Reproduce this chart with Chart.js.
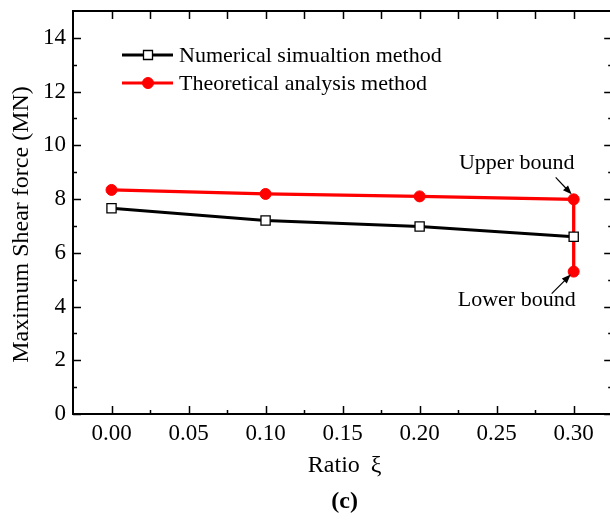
<!DOCTYPE html>
<html>
<head>
<meta charset="utf-8">
<script src="https://cdn.jsdelivr.net/npm/chart.js@4.4.0/dist/chart.umd.min.js"></script>
<style>
  html, body { margin: 0; padding: 0; background: #fff; overflow: hidden; }
  #wrap { width: 620px; height: 520px; }
</style>
</head>
<body>
<div id="wrap"><canvas id="shear-chart" width="620" height="520"></canvas></div>
<script>
// values
const ratioNumerical = [0, 0.1, 0.2, 0.3];
const shearNumerical = [7.66, 7.20, 6.98, 6.60];
const ratioTheory = [0, 0.1, 0.2, 0.3, 0.3];
const shearTheory = [8.34, 8.19, 8.10, 7.99, 5.30];

const xTickValues = [0, 0.05, 0.1, 0.15, 0.2, 0.25, 0.3];
const yTickValues = [0, 2, 4, 6, 8, 10, 12, 14];
const seriesNames = ['Numerical simualtion method', 'Theoretical analysis method'];

const SERIF = '"Liberation Serif", "Times New Roman", serif';

function midpoints(vals, lo, hi) {
    const step = vals[1] - vals[0];
    const out = [];
    for (let i = -1; i < vals.length; i++) {
        const v = (i < 0 ? vals[0] - step : vals[i]) + step / 2;
        if (v > lo && v < hi) out.push(v);
    }
    return out;
}

function arrow(ctx, x1, y1, x2, y2) {
    const a = Math.atan2(y2 - y1, x2 - x1);
    ctx.save();
    ctx.strokeStyle = '#000';
    ctx.fillStyle = '#000';
    ctx.lineWidth = 1.2;
    ctx.beginPath();
    ctx.moveTo(x1, y1);
    ctx.lineTo(x2 - 6 * Math.cos(a), y2 - 6 * Math.sin(a));
    ctx.stroke();
    ctx.beginPath();
    ctx.moveTo(x2, y2);
    ctx.lineTo(x2 - 9 * Math.cos(a) + 3.5 * Math.sin(a), y2 - 9 * Math.sin(a) - 3.5 * Math.cos(a));
    ctx.lineTo(x2 - 9 * Math.cos(a) - 3.5 * Math.sin(a), y2 - 9 * Math.sin(a) + 3.5 * Math.cos(a));
    ctx.closePath();
    ctx.fill();
    ctx.restore();
}

const framePlugin = {
    id: 'frame',
    afterDraw(chart) {
        const ctx = chart.ctx;
        const { left, right, top, bottom } = chart.chartArea;
        const xs = chart.scales.x, ys = chart.scales.y;
        ctx.save();
        ctx.strokeStyle = '#000';
        ctx.lineWidth = 2;
        ctx.strokeRect(left, top, right - left, bottom - top);

        // inward ticks on all four sides
        const xMinor = midpoints(xTickValues, xs.min, xs.max);
        const yMinor = midpoints(yTickValues, ys.min, ys.max);
        ctx.lineWidth = 1.5;
        ctx.beginPath();
        xTickValues.forEach(v => {
            const p = Math.round(xs.getPixelForValue(v)) + 0.5;
            ctx.moveTo(p, bottom); ctx.lineTo(p, bottom - 8);
            ctx.moveTo(p, top); ctx.lineTo(p, top + 8);
        });
        xMinor.forEach(v => {
            const p = Math.round(xs.getPixelForValue(v)) + 0.5;
            ctx.moveTo(p, bottom); ctx.lineTo(p, bottom - 4);
            ctx.moveTo(p, top); ctx.lineTo(p, top + 8);
        });
        yTickValues.forEach(v => {
            const p = Math.round(ys.getPixelForValue(v)) + 0.5;
            ctx.moveTo(left, p); ctx.lineTo(left + 8, p);
            ctx.moveTo(right, p); ctx.lineTo(right - 8, p);
        });
        yMinor.forEach(v => {
            const p = Math.round(ys.getPixelForValue(v)) + 0.5;
            ctx.moveTo(left, p); ctx.lineTo(left + 4, p);
            ctx.moveTo(right, p); ctx.lineTo(right - 4, p);
        });
        ctx.stroke();

        // legend
        ctx.font = '22px ' + SERIF;
        ctx.textBaseline = 'middle';
        ctx.textAlign = 'left';
        chart.data.datasets.forEach((ds, i) => {
            const y = 55 + i * 28;
            ctx.strokeStyle = ds.borderColor;
            ctx.lineWidth = 3;
            ctx.beginPath();
            ctx.moveTo(122, y); ctx.lineTo(173, y);
            ctx.stroke();
            ctx.fillStyle = ds.pointBackgroundColor;
            ctx.lineWidth = ds.pointBorderWidth;
            ctx.beginPath();
            if (ds.pointStyle === 'rect') {
                const s = 4.5;
                ctx.rect(148 - s, y - s, 2 * s, 2 * s);
            } else {
                ctx.arc(148, y, ds.pointRadius, 0, Math.PI * 2);
            }
            ctx.fill(); ctx.stroke();
            ctx.fillStyle = '#000';
            ctx.fillText(seriesNames[i], 179, y + 1);
        });

        // bound annotations
        const meta = chart.getDatasetMeta(1).data;
        const up = meta[3], low = meta[4];
        ctx.textAlign = 'center';
        ctx.fillText('Upper bound', up.x - 57, up.y - 36);
        ctx.fillText('Lower bound', low.x - 57, low.y + 29);
        arrow(ctx, up.x - 18, up.y - 22, up.x - 2, up.y - 5);
        arrow(ctx, low.x - 22, low.y + 22, low.x - 3, low.y + 3);

        // axis titles
        const midX = xs.getPixelForValue(0.15) + 2;
        ctx.font = '24px ' + SERIF;
        ctx.fillText('Ratio \u2009\u03be', midX, 466);
        ctx.font = 'bold 24px ' + SERIF;
        ctx.fillText('(c)', midX, 502);
        ctx.font = '24px ' + SERIF;
        ctx.translate(22, (top + bottom) / 2 + 12);
        ctx.rotate(-Math.PI / 2);
        ctx.fillText('Maximum Shear force (MN)', 0, 0);
        ctx.restore();
    }
};

const ctx = document.getElementById('shear-chart').getContext('2d');
new Chart(ctx, {
    type: 'line',
    data: {
        datasets: [
            {
                label: seriesNames[0],
                data: ratioNumerical.map((x, i) => ({ x, y: shearNumerical[i] })),
                borderColor: '#000',
                borderWidth: 3,
                pointStyle: 'rect',
                pointRadius: 6.5,
                pointBorderWidth: 1.3,
                pointBackgroundColor: '#fff',
                pointBorderColor: '#000',
                tension: 0
            },
            {
                label: seriesNames[1],
                data: ratioTheory.map((x, i) => ({ x, y: shearTheory[i] })),
                borderColor: '#ff0000',
                borderWidth: 3.3,
                pointStyle: 'circle',
                pointRadius: 5.5,
                pointBorderWidth: 1,
                pointBackgroundColor: '#ff0000',
                pointBorderColor: '#ff0000',
                tension: 0
            }
        ]
    },
    options: {
        responsive: false,
        animation: false,
        layout: { padding: { top: 11, right: 5, left: 0, bottom: 0 } },
        plugins: {
            legend: { display: false },
            tooltip: { enabled: false }
        },
        scales: {
            x: {
                type: 'linear',
                min: -0.025,
                max: 0.325,
                afterBuildTicks: s => { s.ticks = xTickValues.map(v => ({ value: v })); },
                afterFit: s => { s.height = 106; s.paddingLeft = 0; s.paddingRight = 0; },
                grid: { display: false, drawTicks: false },
                border: { display: false },
                ticks: {
                    padding: 6,
                    color: '#000',
                    maxRotation: 0,
                    autoSkip: false,
                    font: { family: SERIF, size: 23 },
                    callback: v => v.toFixed(2)
                }
            },
            y: {
                min: 0,
                max: 15,
                afterBuildTicks: s => { s.ticks = yTickValues.map(v => ({ value: v })); },
                afterFit: s => { s.width = 73; s.paddingTop = 0; s.paddingBottom = 0; },
                grid: { display: false, drawTicks: false },
                border: { display: false },
                ticks: {
                    padding: 7,
                    color: '#000',
                    autoSkip: false,
                    font: { family: SERIF, size: 23 }
                }
            }
        }
    },
    plugins: [framePlugin]
});
</script>
</body>
</html>
